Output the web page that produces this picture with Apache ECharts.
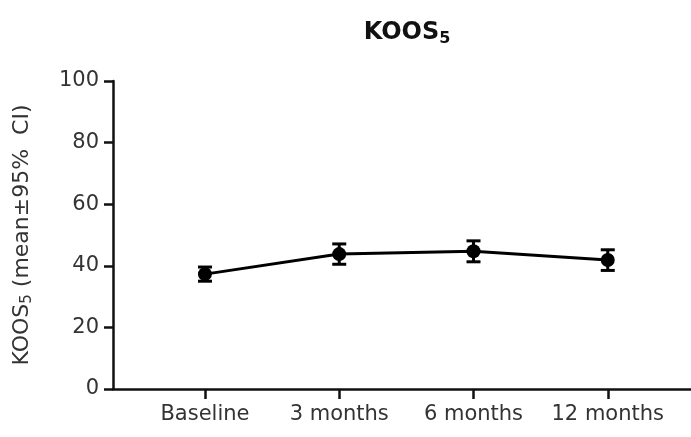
<!DOCTYPE html>
<html><head><meta charset="utf-8">
<script src="https://cdn.jsdelivr.net/npm/echarts@6/dist/echarts.min.js"></script>
<style>html,body{margin:0;padding:0;background:#fff}#c{width:691px;height:437px}</style>
</head><body><div id="c"></div>
<script>
const categories = ['Baseline', '3 months', '6 months', '12 months'];
const means = [37.3, 43.8, 44.7, 41.9];
const ciLow = [35.0, 40.5, 41.3, 38.5];
const ciHigh = [39.6, 47.1, 48.1, 45.2];
const yTicks = [0, 20, 40, 60, 80, 100];

const chart = echarts.init(document.getElementById('c'));
const font = 'DejaVu Sans';
const pos = categories.map((c, i) => i);
chart.setOption({
  animation: false,
  title: {
    text: '{m|KOOS}{s|5}', left: 402, top: 14, textAlign: 'center',
    textStyle: { rich: {
      m: { fontFamily: font, fontWeight: 'bold', fontSize: 24, color: '#111' },
      s: { fontFamily: font, fontWeight: 'bold', fontSize: 16, color: '#111', padding: [12, 0, 0, 0] }
    } }
  },
  grid: { left: 113, right: 0, top: 81, bottom: 48 },
  xAxis: {
    type: 'value', min: -0.685, max: 3.62,
    axisLine: { show: true, onZero: false, lineStyle: { color: '#111', width: 2.5 } },
    axisTick: { show: true, length: 10, customValues: pos, lineStyle: { color: '#111', width: 2.5 } },
    axisLabel: { customValues: pos, margin: 15, fontFamily: font, fontSize: 21, color: '#333',
      formatter: v => categories[Math.round(v)] },
    splitLine: { show: false }
  },
  yAxis: {
    type: 'value', min: 0, max: 100, interval: 20,
    name: '{m|KOOS}{s|5}{m| (mean±95%  CI)}', nameLocation: 'middle', nameGap: 78, nameRotate: 90,
    nameTextStyle: { rich: {
      m: { fontFamily: font, fontSize: 22, color: '#333' },
      s: { fontFamily: font, fontSize: 15, color: '#333', padding: [10, 0, 0, 0] }
    } },
    axisLine: { show: true, onZero: false, lineStyle: { color: '#111', width: 2.5 } },
    axisTick: { show: true, length: 9, lineStyle: { color: '#111', width: 2.5 } },
    axisLabel: { margin: 14, fontFamily: font, fontSize: 21, color: '#333',
      formatter: v => yTicks.includes(v) ? String(v) : '' },
    splitLine: { show: false }
  },
  series: [
    {
      type: 'custom',
      data: pos.map(i => [i, ciLow[i], ciHigh[i]]),
      renderItem: (params, api) => {
        const lo = api.coord([api.value(0), api.value(1)]);
        const hi = api.coord([api.value(0), api.value(2)]);
        const w = 7;
        const st = { stroke: '#000', lineWidth: 3 };
        return { type: 'group', children: [
          { type: 'line', shape: { x1: lo[0], y1: lo[1], x2: hi[0], y2: hi[1] }, style: st },
          { type: 'line', shape: { x1: lo[0] - w, y1: lo[1], x2: lo[0] + w, y2: lo[1] }, style: st },
          { type: 'line', shape: { x1: hi[0] - w, y1: hi[1], x2: hi[0] + w, y2: hi[1] }, style: st }
        ] };
      },
      z: 3
    },
    {
      type: 'line',
      data: pos.map(i => [i, means[i]]),
      symbol: 'circle', symbolSize: 14,
      lineStyle: { color: '#000', width: 3 },
      itemStyle: { color: '#000' },
      z: 4
    }
  ]
});
</script></body></html>
